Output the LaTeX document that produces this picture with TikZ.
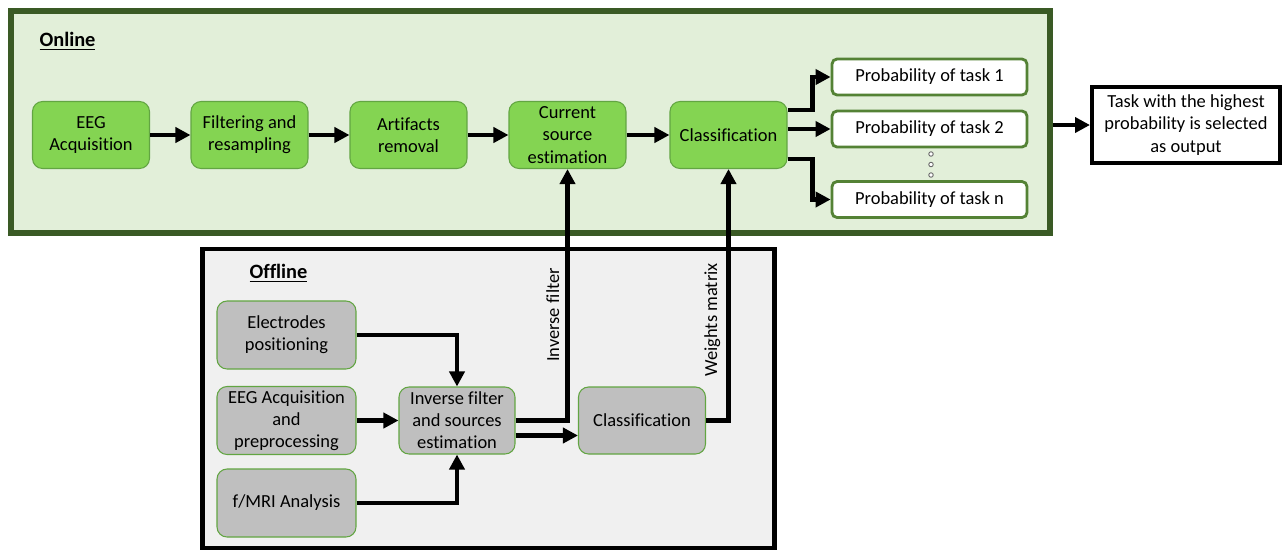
\documentclass[tikz,border=0pt]{standalone}
\usepackage{fontspec}
\setmainfont{Carlito}[Ligatures=NoCommon]
\usepackage{tikz}
\usetikzlibrary{arrows.meta, positioning}

\definecolor{frameGreen}{HTML}{3A5A25}
\definecolor{paleGreen}{HTML}{E2EFD9}
\definecolor{stepGreen}{HTML}{84D452}
\definecolor{edgeGreen}{HTML}{62A542}
\definecolor{probEdge}{HTML}{548235}
\definecolor{paleGray}{HTML}{F0F0F0}
\definecolor{stepGray}{HTML}{BFBFBF}

\begin{document}
\begin{tikzpicture}[x=0.02cm, y=-0.02cm,
        font=\fontsize{10.5pt}{12.6pt}\selectfont,
        onlineframe/.style={rectangle, draw=frameGreen, fill=paleGreen, line width=3.4pt, minimum width=20.78cm, minimum height=4.44cm, inner sep=0pt},
        offlineframe/.style={rectangle, draw=black, fill=paleGray, line width=2.8pt, minimum width=11.45cm, minimum height=5.98cm, inner sep=0pt},
        framelabel/.style={font=\fontsize{11.6pt}{14pt}\selectfont\bfseries},
        onlinebox/.style={rectangle, rounded corners=0.2cm, draw=edgeGreen, fill=stepGreen, line width=0.6pt, minimum width=2.34cm, minimum height=1.34cm, align=center, inner sep=1pt},
        offlinebox/.style={rectangle, rounded corners=0.2cm, draw=edgeGreen, fill=stepGray, line width=0.6pt, minimum width=2.78cm, minimum height=1.36cm, align=center, inner sep=1pt},
        probbox/.style={rectangle, rounded corners=0.1cm, draw=probEdge, fill=white, line width=1.6pt, minimum width=3.9cm, minimum height=0.72cm, align=center},
        resultbox/.style={rectangle, draw=black, fill=white, line width=2.3pt, minimum width=3.76cm, minimum height=1.52cm, align=center, inner sep=1pt},
        flow/.style={-{Triangle[length=0.3cm, width=0.3cm]}, line width=2.7pt, black}
    ]
    \useasboundingbox (0,0) rectangle (1285,549);

    % frames
    \node[onlineframe] (online) at (530.5,122) {};
    \node[offlineframe] (offline) at (488.25,398.5) {};
    \node[framelabel] (onlinelabel) at (67.5,41) {\underline{Online}};
    \node[framelabel] (offlinelabel) at (278.5,273) {\underline{Offline}};

    % online chain
    \node[onlinebox] (eeg) at (91,135) {EEG\\Acquisition};
    \node[onlinebox] (filt) at (249.5,135) {Filtering and\\resampling};
    \node[onlinebox] (art) at (408.5,135) {Artifacts\\removal};
    \node[onlinebox] (cse) at (567.5,135) {Current\\source\\estimation};
    \node[onlinebox] (cls) at (728.5,135) {Classification};

    \node[probbox] (p1) at (929.5,77) {Probability of task 1};
    \node[probbox] (p2) at (929.5,129) {Probability of task 2};
    \node[probbox] (pn) at (929.5,199.5) {Probability of task n};
    \foreach \y in {154,164.5,175}
        \draw[black!60, fill=white, line width=0.5pt] (931,\y) circle[radius=0.045cm];

    \node[resultbox] (outbox) at (1186,125) {Task with the highest\\probability is selected\\as output};

    \draw[flow] (eeg) -- (filt);
    \draw[flow] (filt) -- (art);
    \draw[flow] (art) -- (cse);
    \draw[flow] (cse) -- (cls);
    \draw[flow] ([yshift=0.5cm]cls.east) -| ([xshift=-0.36cm]p1.west) -- (p1.west);
    \draw[flow] (cls.east |- p2.west) -- (p2.west);
    \draw[flow] ([yshift=-0.48cm]cls.east) -| ([xshift=-0.36cm]pn.west) -- (pn.west);
    \draw[flow] (online.east |- outbox.west) -- (outbox.west);

    % offline chain
    \node[offlinebox] (elec) at (286.5,335) {Electrodes\\positioning};
    \node[offlinebox] (eegoff) at (286.5,420.5) {EEG Acquisition\\and\\preprocessing};
    \node[offlinebox] (fmri) at (286.5,503) {f/MRI Analysis};
    \node[offlinebox, minimum width=2.32cm, minimum height=1.34cm] (inv) at (457,420.5) {Inverse filter\\and sources\\estimation};
    \node[offlinebox, minimum width=2.54cm, minimum height=1.34cm] (clsoff) at (642,420.5) {Classification};

    \draw[flow] (elec.east) -| (inv.north);
    \draw[flow] (eegoff) -- (inv);
    \draw[flow] (fmri.east) -| (inv.south);
    \draw[flow] ([yshift=-0.3cm]inv.east) -- ([yshift=-0.3cm]clsoff.west);

    % offline results fed to the online chain
    \draw[flow] (inv.east) -| (cse.south)
        node[pos=0.71, above, rotate=90] {Inverse filter};
    \draw[flow] (clsoff.east) -| (cls.south)
        node[pos=0.7, above, rotate=90] {Weights matrix};
\end{tikzpicture}
\end{document}
